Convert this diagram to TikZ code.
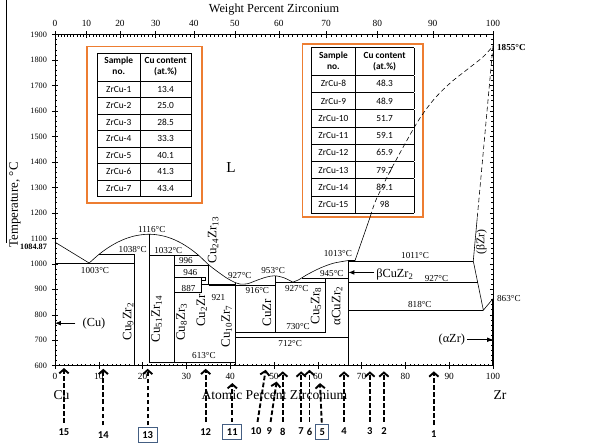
\documentclass[tikz,border=0pt]{standalone}
\usepackage{fontspec}
\setmainfont{Liberation Serif}
\newfontfamily\calib{Carlito}
\usepackage{array}
\usetikzlibrary{arrows.meta}

\definecolor{boxorange}{RGB}{237,125,49}
\definecolor{numblue}{RGB}{68,94,130}

% table rows
\newcommand{\srow}{\rule[-4.2pt]{0pt}{13.6pt}}
\newcommand{\trow}{\rule[-4.5pt]{0pt}{14.2pt}}
\newcommand{\hrow}{\rule[-9.5pt]{0pt}{23pt}}
\newcommand{\hd}[2]{\begin{tabular}{@{}c@{}}\bfseries #1\\\bfseries #2\end{tabular}}

\begin{document}
\begin{tikzpicture}[x=0.1314cm, y=0.00765cm,
    phase/.style={line width=0.5pt},
    tick/.style={line width=0.4pt},
    ylab/.style={anchor=east, inner sep=0pt, font=\fontsize{7}{8}\selectfont},
    xlab/.style={inner sep=0pt, font=\fontsize{8}{9}\selectfont},
    tlab/.style={inner sep=0pt, font=\fontsize{7.8}{9}\selectfont},
    plab/.style={rotate=90, inner sep=0pt, font=\fontsize{11}{13}\selectfont},
    rlab/.style={inner sep=0pt, font=\fontsize{10.5}{12}\selectfont},
    ptr/.style={-{Latex[length=5pt,width=4pt]}, line width=0.6pt, shorten <=1.5pt},
    tbox/.style={draw=boxorange, line width=1.5pt, inner xsep=8.8pt, font=\calib\fontsize{8}{9.2}\selectfont},
    samp/.style={inner sep=1.5pt, font=\calib\bfseries\fontsize{9}{10}\selectfont},
    nbox/.style={samp, draw=numblue, line width=0.8pt, inner xsep=3.5pt, inner ysep=3.6pt},
    sarrow/.style={line width=1.6pt, dash pattern=on 4pt off 2pt, -{Straight Barb[length=3.5pt,width=8pt]}}
  ]
  \useasboundingbox (-12.557,282.35) rectangle (122.15,2035.3);

  % Frame and ticks
  \draw[tick] (0,600) rectangle (100,1900);
  \foreach \T in {600,700,...,1900} {
    \draw[tick] (-0.7,\T) -- (0.7,\T);
    \draw[tick] (99.3,\T) -- (100,\T);
    \node[ylab] at (-1.8,\T) {\T};
  }
  \foreach \T in {620,640,...,1880} {
    \draw[tick] (0,\T) -- (0.4,\T);
    \draw[tick] (99.6,\T) -- (100,\T);
  }
  \node[ylab, font=\bfseries\fontsize{7}{8}\selectfont] at (-1.8,1067) {1084.87};
  \foreach \x in {0,10,...,100} {
    \draw[tick] (\x,588) -- (\x,614);
    \node[xlab] at (\x,558) {\x};
  }
  \foreach \x in {1,...,99} \draw[tick] (\x,600) -- (\x,608);
  \foreach \w in {0,10,...,100} {
    \pgfmathsetmacro\a{100*(\w/91.224)/((\w/91.224)+((100-\w)/63.546))}
    \draw[tick] (\a,1888) -- (\a,1912);
    \node[xlab] at (\a,1944) {\w};
  }
  \foreach \w in {1,...,99} {
    \pgfmathsetmacro\a{100*(\w/91.224)/((\w/91.224)+((100-\w)/63.546))}
    \draw[tick] (\a,1892) -- (\a,1900);
  }

  % Axis titles
  \node[font=\fontsize{10.5}{12}\selectfont] at (50,1996) {Weight Percent Zirconium};
  \node[font=\fontsize{11.6}{13}\selectfont] at (50.1,486) {Atomic Percent Zirconium};
  \node[font=\fontsize{11.6}{13}\selectfont] at (1.5,486) {Cu};
  \node[font=\fontsize{11.6}{13}\selectfont] at (101.6,486) {Zr};
  \node[rotate=90, font=\fontsize{11}{13}\selectfont] at (-9.13,1231) {Temperature, °C};
  \draw[line width=0.6pt] (-11.1,2035.3) -- (-11.1,1082);

  % Tables
  \node[tbox, inner ysep=5.6pt] (tabL) at (20.43,1545) {%
    \setlength{\tabcolsep}{0pt}\setlength{\arrayrulewidth}{0.5pt}%
    \begin{tabular}{|w{c}{35.5pt}|w{c}{43.4pt}|}
      \hline
      \hrow\hd{Sample}{no.} & \hd{Cu content}{(at.\%)}\\ \hline
      \srow ZrCu-1 & 13.4\\ \hline
      \srow ZrCu-2 & 25.0\\ \hline
      \srow ZrCu-3 & 28.5\\ \hline
      \srow ZrCu-4 & 33.3\\ \hline
      \srow ZrCu-5 & 40.1\\ \hline
      \srow ZrCu-6 & 41.3\\ \hline
      \srow ZrCu-7 & 43.4\\ \hline
    \end{tabular}};
  \node[tbox, inner xsep=7.6pt, inner ysep=2.9pt] (tabR) at (70.27,1523.5) {%
    \setlength{\tabcolsep}{0pt}\setlength{\arrayrulewidth}{0.5pt}%
    \begin{tabular}{|w{c}{36.8pt}|w{c}{49.6pt}|}
      \hline
      \hrow\hd{Sample}{no.} & \hd{Cu content}{(at.\%)}\\ \hline
      \trow ZrCu-8 & 48.3\\ \hline
      \trow ZrCu-9 & 48.9\\ \hline
      \trow ZrCu-10 & 51.7\\ \hline
      \trow ZrCu-11 & 59.1\\ \hline
      \trow ZrCu-12 & 65.9\\ \hline
      \trow ZrCu-13 & 79.7\\ \hline
      \trow ZrCu-14 & 89.1\\ \hline
      \trow ZrCu-15 & 98\\ \hline
    \end{tabular}};

  % Liquidus
  \draw[phase] (0,1084.87) -- (7.8,1003);
  \draw[phase] plot[smooth] coordinates {(7.8,1003) (10,1036.4) (12,1061.7) (14,1082.1) (16,1097.8) (18,1108.6) (20,1114.6) (21.5,1116) (23,1114.5) (25,1108) (27,1096.4) (29,1079.5) (31,1057.4) (33,1030.2) (35.1,996) (37.3,967) (39.4,942) (41.2,926) (42.4,920)};
  \draw[phase] plot[smooth] coordinates {(42.4,920) (44,922) (46.2,936) (48.3,948) (50.2,953) (52.3,945) (54.3,928)};
  \draw[phase] plot[smooth] coordinates {(54.3,928) (55.6,937) (57.5,957) (60.5,983) (63.5,1002) (67,1013)};
  \draw[phase] (67,1013) -- (68.5,1013) -- (72,1186);
  \draw[phase, dash pattern=on 4pt off 2.5pt] plot[smooth] coordinates {(72,1186) (73.3,1251) (76.9,1376) (82.6,1552) (86.4,1643) (90.2,1709) (94,1761) (97.8,1813) (100,1855)};
  \draw[phase, dash pattern=on 4pt off 2.5pt] (100,1855) -- (96.4,1180);
  \draw[phase] (96.4,1180) -- (95.5,1011) -- (97.8,818) -- (100,863);
  \draw[line width=1pt] (100,600) -- (100,863);

  % Invariant lines and compounds
  \draw[phase] (0,1003) -- (18.2,1003);
  \draw[phase] (10.1,1038) -- (18.2,1038);
  \draw[phase] (18.2,600) -- (18.2,1038);
  \draw[phase] (21.5,613) -- (21.5,1116);
  \draw[phase] (21.5,1032) -- (32.9,1032);
  \draw[phase] (27.3,613) -- (27.3,1032);
  \draw[phase] (27.3,996) -- (35.1,996);
  \draw[phase] (27.3,946) -- (34.3,946) -- (34.3,934) -- (33.3,934);
  \draw[phase] (33.3,946) -- (33.3,887);
  \draw[phase] (27.3,887) -- (33.3,887);
  \draw[phase] (35.1,996) -- (35.1,916);
  \draw[phase] (33.3,921) -- (41.2,921);
  \draw[phase] (35.1,916) -- (50.2,916);
  \draw[phase] (41.2,600) -- (41.2,926);
  \draw[phase] (21.5,613) -- (41.2,613);
  \draw[phase] (50.2,730) -- (50.2,953);
  \draw[phase] (50.2,927) -- (61.6,927);
  \draw[phase] (56.4,945) -- (67,945);
  \draw[phase] (61.6,730) -- (61.6,945);
  \draw[line width=1pt] (41.2,731) -- (61.6,731);
  \draw[phase] (41.2,712) -- (67,712);
  \draw[phase] (67,600) -- (67,1013);
  \draw[phase] (67,1011) -- (95.5,1011);
  \draw[phase] (67,927) -- (96.6,927);
  \draw[phase] (67,818) -- (97.8,818);

  % Temperatures
  \node[tlab] at (22.08,1136) {1116°C};
  \node[tlab] at (17.74,1055) {1038°C};
  \node[tlab] at (25.87,1051) {1032°C};
  \node[tlab] at (9.13,974) {1003°C};
  \node[tlab] at (29.9,1012) {996};
  \node[tlab] at (30.9,966) {946};
  \node[tlab] at (30.5,904) {887};
  \node[tlab] at (37.3,866) {921};
  \node[tlab] at (42.2,953) {927°C};
  \node[tlab] at (49.8,973) {953°C};
  \node[tlab] at (46.2,894) {916°C};
  \node[tlab] at (55.2,902) {927°C};
  \node[tlab] at (63.2,963) {945°C};
  \node[tlab] at (64.6,1042) {1013°C};
  \node[tlab] at (82.2,1031) {1011°C};
  \node[tlab] at (87.1,944) {927°C};
  \node[tlab] at (83.3,839) {818°C};
  \node[tlab, anchor=west] at (100.9,862) {863°C};
  \node[tlab, anchor=west, font=\bfseries\fontsize{7.8}{9}\selectfont] at (100.9,1850) {1855°C};
  \node[tlab] at (55.5,754) {730°C};
  \node[tlab] at (53.7,689) {712°C};
  \node[tlab] at (34.0,639) {613°C};

  % Phases
  \node[font=\fontsize{13}{15}\selectfont] at (40.2,1376) {L};
  \node[plab] at (16.7,774) {Cu\textsubscript{9}Zr\textsubscript{2}};
  \node[plab] at (23.2,784) {Cu\textsubscript{51}Zr\textsubscript{14}};
  \node[plab] at (28.9,771) {Cu\textsubscript{8}Zr\textsubscript{3}};
  \node[plab] at (33.5,816) {Cu\textsubscript{2}Zr};
  \node[plab] at (39.2,754) {Cu\textsubscript{10}Zr\textsubscript{7}};
  \node[plab] at (36.1,1094) {Cu\textsubscript{24}Zr\textsubscript{13}};
  \node[plab] at (48.4,808) {CuZr};
  \node[plab] at (59.6,835) {Cu\textsubscript{5}Zr\textsubscript{8}};
  \node[plab] at (64.4,835) {αCuZr\textsubscript{2}};
  \node[plab, font=\fontsize{10}{12}\selectfont] at (97.4,1087) {(βZr)};

  % Pointers
  \node[rlab] (cu) at (8.9,767) {(Cu)};
  \node[rlab] (azr) at (90.6,702) {(αZr)};
  \node[rlab] (bcuzr) at (77.6,957) {βCuZr\textsubscript{2}};
  \coordinate (cuaxis) at (0,767);
  \coordinate (zraxis) at (100,702);
  \coordinate (cuzrline) at (67,966);
  \draw[ptr, shorten <=6pt] (cu) -- (cuaxis);
  \draw[ptr] (azr) -- (zraxis);
  \draw[ptr] (bcuzr.west |- cuzrline) -- (cuzrline);

  % Samples
  \foreach \n/\tx/\tt/\lx/\ly in {15/2.05/591/2.05/338, 14/11.03/588/11.03/329,
      12/34.4/588/34.4/341, 10/48.1/584/45.9/342, 9/50.6/538/48.9/342,
      8/52.0/578/52.0/342, 7/56.2/578/56.2/342, 6/58.1/584/58.1/342,
      4/66.0/578/66.0/342, 3/71.9/578/71.9/342, 2/75.1/578/75.1/342,
      1/86.5/578/86.5/330} {
    \coordinate (t\n) at (\tx,\tt);
    \node[samp] (s\n) at (\lx,\ly) {\n};
    \draw[sarrow, shorten <=3.5pt] (s\n) -- (t\n);
  }
  \foreach \n/\tx/\tt/\lx/\ly in {13/21.16/588/21.16/328, 11/40.48/532/40.48/341,
      5/60.5/532/61.0/339} {
    \coordinate (t\n) at (\tx,\tt);
    \node[nbox] (s\n) at (\lx,\ly) {\n};
    \draw[sarrow, shorten <=1.2pt] (s\n) -- (t\n);
  }
\end{tikzpicture}
\end{document}
